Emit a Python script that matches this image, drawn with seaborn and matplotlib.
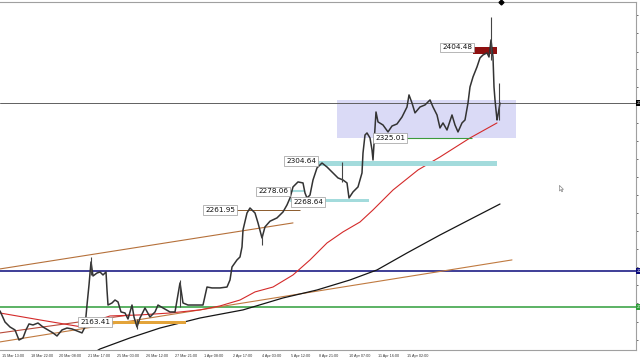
import numpy as np
import pandas as pd
import matplotlib
matplotlib.use('Agg')
import matplotlib.pyplot as plt
from matplotlib.path import Path
import seaborn as sns

sns.set_theme(style='white')
plt.rcParams['font.family'] = ['DejaVu Sans']

# ---------------- data ----------------
bar_pos = [0,5,10,15,19,23,26,29,33,38,43,48,53,57,62,67,72,77,82,85,87,89,91,93,97,100,103,106,107,108,
           112,115,118,121,125,128,132,134,137,140,145,150,155,158,163,170,175,180,183,188,197,203,207,212,
           220,227,230,232,237,240,242,243,247,250,255,258,262,265,270,277,283,287,290,293,298,303,305,307,
           310,313,317,322,327,333,338,343,347,349,353,358,362,363,365,367,370,372,373,375,376,378,383,388,
           392,397,402,407,409,412,415,420,425,430,433,437,440,443,447,452,455,458,462,465,468,470,473,477,
           480,483,487,489,491,493,494,495,497,498,500]
close_px = [2173.1,2163.4,2159.0,2156.4,2147.6,2149.4,2156.4,2161.7,2160.8,2162.5,2159.0,2156.4,2153.8,2151.1,
            2156.4,2158.1,2157.3,2155.5,2153.8,2159.0,2178.3,2195.9,2216.1,2203.8,2206.4,2207.3,2204.7,2207.3,
            2191.5,2178.3,2180.1,2182.7,2181.0,2172.2,2171.3,2166.0,2178.3,2167.8,2159.0,2166.9,2175.7,2167.8,
            2172.2,2178.3,2175.7,2172.2,2172.2,2197.7,2180.1,2178.3,2178.3,2178.3,2194.1,2193.3,2193.3,2194.1,
            2200.3,2211.7,2217.9,2220.5,2229.3,2244.2,2259.1,2263.5,2259.1,2250.4,2237.2,2246.9,2251.9,2254.8,
            2260.0,2266.2,2272.3,2282.0,2286.4,2285.5,2276.7,2272.3,2274.9,2288.1,2298.7,2303.0,2299.5,2294.3,
            2289.9,2288.1,2285.5,2272.3,2277.6,2282.0,2294.3,2311.8,2327.6,2329.4,2325.0,2314.5,2305.7,2334.7,
            2347.8,2339.1,2336.4,2330.3,2335.5,2337.3,2343.4,2352.2,2362.8,2355.7,2347.0,2352.2,2354.0,2358.4,
            2352.2,2345.2,2333.8,2338.2,2332.0,2345.2,2336.4,2330.3,2338.2,2340.8,2355.7,2369.8,2378.6,2387.4,
            2395.3,2397.9,2399.7,2396.1,2411.1,2396.1,2369.8,2358.4,2340.8,2345.2,2355.7]

wick_pos = [91, 180, 262, 342, 491, 499, 137]
wick_high = [2220.5, 2200.3, 2240.0, 2303.9, 2431.3, 2373.3, 2166.0]
wick_low = [2205.0, 2176.6, 2231.0, 2286.4, 2393.5, 2340.8, 2157.3]

ma_red_pos = [0,40,82,95,110,140,170,200,220,240,255,273,293,310,327,343,360,373,393,418,440,470,497]
ma_red = [2171.3,2165.2,2159.0,2164.3,2168.7,2169.6,2171.3,2174.0,2177.5,2182.7,2189.8,2194.1,2204.7,
          2217.9,2232.8,2242.5,2251.2,2261.8,2279.3,2296.9,2308.3,2325.0,2338.2]

ma_black_pos = [95,100,130,160,200,243,283,317,350,377,407,440,473,500]
ma_black = [2137.1,2139.7,2149.4,2158.1,2166.9,2174.0,2184.5,2191.5,2200.3,2209.1,2224.0,2239.8,2254.8,2267.0]

# horizontal lines across the chart
hline_prices = [2355.5, 2207.9, 2176.3]
hline_colors = ['#606060', '#0a0a7a', '#2f9e3a']
hline_widths = [0.7, 1.1, 1.1]
tag_colors = ['#000000', '#0a0a7a', '#2f9e3a']

# trend lines: (start bar, start price, end bar, end price)
trend_lines = [(0, 2210.0, 293, 2250.4), (0, 2145.9, 512, 2217.9), (0, 2153.8, 130, 2169.6)]
trend_colors = ['#b5703a', '#c07a40', '#b84a3a']

# price labels (value, bar where label ends)
label_vals = [2404.48, 2325.01, 2304.64, 2278.06, 2268.64, 2261.95, 2163.41]
label_ends = [472, 405, 316, 288, 323, 235, 110]

# zone (bar start, bar end, low, high)
zone = (337, 516, 2325.0, 2358.4)

# right-axis tick values
y_ticks = [2433.02, 2416.95, 2400.79, 2385.33, 2369.52, 2353.98, 2338.44, 2322.63, 2306.56, 2290.49,
           2274.94, 2258.87, 2243.33, 2227.26, 2211.98, 2195.90, 2180.36, 2163.67, 2147.60]
x_tick_pos = [1.7, 30.7, 59.3, 88, 117.3, 146, 174.7, 204, 232.7, 261.7, 290.7, 319.3, 349.3, 377.7, 407.3]
x_tick_labels = ['15 Mar 13:00', '18 Mar 22:00', '20 Mar 08:00', '21 Mar 17:00', '25 Mar 03:00',
                 '26 Mar 12:00', '27 Mar 21:00', '1 Apr 08:00', '2 Apr 17:00', '4 Apr 03:00',
                 '5 Apr 12:00', '8 Apr 21:00', '10 Apr 07:00', '11 Apr 16:00', '15 Apr 02:00']

# ---------------- figure ----------------
fig = plt.figure(figsize=(6.4, 3.6), dpi=100)
ax = fig.add_axes([0, 10/360, 636/640, 348/360])
ax.set_xlim(0, 636)
ax.set_ylim(2138.8, 2444.4)

# zone rectangle
ax.fill_between([zone[0], zone[1]], zone[2], zone[3], color='#dadaf6', zorder=0, lw=0)

# horizontal lines
for p, c, w in zip(hline_prices, hline_colors, hline_widths):
    ax.axhline(p, color=c, lw=w, zorder=1)

# trend lines
for (x0, p0, x1, p1), c in zip(trend_lines, trend_colors):
    sns.lineplot(x=[x0, x1], y=[p0, p1], ax=ax, color=c, lw=0.8, zorder=2)

# moving averages
sns.lineplot(data=pd.DataFrame({'bar': ma_black_pos, 'v': ma_black}), x='bar', y='v', ax=ax,
             color='#151515', lw=0.9, estimator=None, zorder=2)
sns.lineplot(data=pd.DataFrame({'bar': ma_red_pos, 'v': ma_red}), x='bar', y='v', ax=ax,
             color='#d42a2a', lw=0.8, estimator=None, zorder=2)

# level drawings
ax.fill_between([473, 497], 2398.4, 2404.48, color='#8e1010', lw=0, zorder=3)
ax.hlines(label_vals[1], 405, 472, color='#3c9a3c', lw=0.8, zorder=3)
ax.fill_between([316, 497], 2300.6, 2305.0, color='#a3dbdc', lw=0, zorder=3)
ax.hlines(label_vals[3], 288, 305, color='#a3dbdc', lw=1.5, zorder=3)
ax.fill_between([290, 369], 2268.6, 2271.6, color='#a3dbdc', lw=0, zorder=3)
ax.hlines(label_vals[5], 235, 300, color='#8b5a2b', lw=0.7, zorder=3)
ax.fill_between([110, 186], 2161.5, 2164.1, color='#e3a43a', lw=0, zorder=3)

# price series
df = pd.DataFrame({'bar': bar_pos, 'price': close_px})
sns.lineplot(data=df, x='bar', y='price', ax=ax, color='#333333', lw=1.1, estimator=None, zorder=4)
ax.vlines(wick_pos, wick_low, wick_high, color='#444444', lw=0.8, zorder=4)

# price labels
for v, xe in zip(label_vals, label_ends):
    ax.text(xe, v, f'{v:.2f}', ha='right', va='center', fontsize=5.2, color='#111111', zorder=6,
            bbox=dict(boxstyle='square,pad=0.25', fc='white', ec='#9a9a9a', lw=0.5))

# top shift marker
ax.plot([501], [2444.4], marker='D', ms=2.5, color='black', clip_on=False, zorder=7)

# mouse cursor
cursor = Path([(0, 0), (0, -10), (2.4, -7.6), (4.2, -11.4), (5.8, -10.7), (4.0, -7.0), (7.2, -7.0), (0, 0)])
ax.plot([559], [2284.0], marker=cursor, ms=9, mfc='white', mec='#8a8a8a', mew=0.5, zorder=7)

# axes styling
ax.set_xlabel('')
ax.set_ylabel('')
for s in ['top', 'right', 'bottom']:
    ax.spines[s].set_color('#a0a0a0')
    ax.spines[s].set_linewidth(0.8)
ax.spines['left'].set_visible(False)

ax.yaxis.tick_right()
ax.set_yticks(y_ticks)
ax.set_yticklabels([f'{t:.2f}' for t in y_ticks])
ax.tick_params(axis='y', length=1.5, pad=1, labelsize=3.2, colors='#333333', width=0.5)

ax.set_xticks(x_tick_pos)
ax.set_xticklabels(x_tick_labels)
for lab in ax.get_xticklabels():
    lab.set_horizontalalignment('left')
    lab.set_fontfamily('Liberation Sans')
ax.tick_params(axis='x', length=1.5, pad=1.2, labelsize=2.7, colors='#333333', width=0.5)

# line price tags on the right axis
for p, c in zip(hline_prices, tag_colors):
    ax.text(636.8, p, f'{p:.2f}', ha='left', va='center', fontsize=3.2, color='white',
            clip_on=False, zorder=8,
            bbox=dict(boxstyle='square,pad=0.2', fc=c, ec=c, lw=0))

fig.savefig('out.png', dpi=100)
